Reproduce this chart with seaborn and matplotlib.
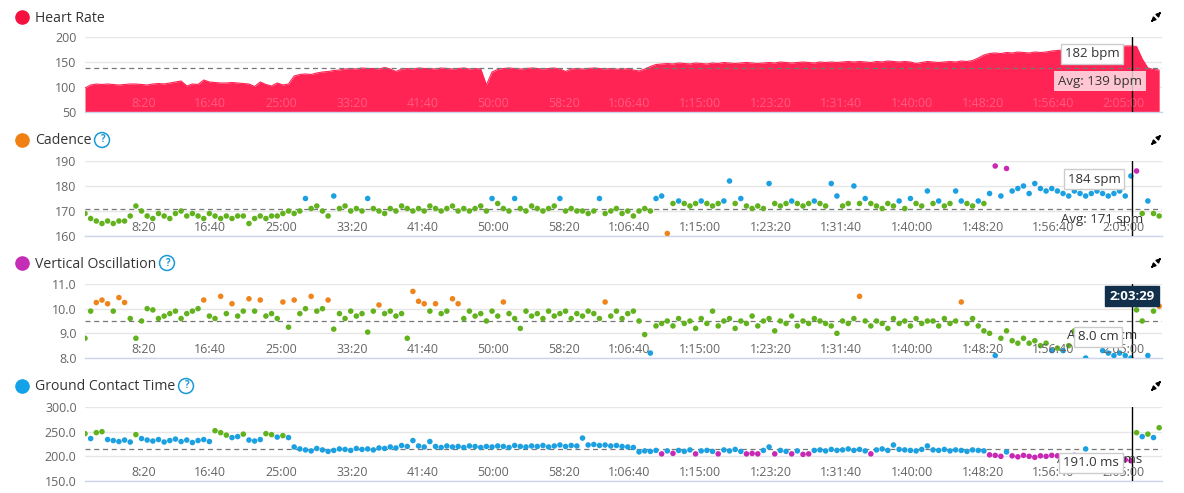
import numpy as np
import pandas as pd
import matplotlib
matplotlib.use('Agg')
import matplotlib.pyplot as plt
from matplotlib.lines import Line2D
from matplotlib.patches import FancyArrowPatch
from matplotlib.transforms import blended_transform_factory
import seaborn as sns

# one sample every 40 s
sample_step = 40

heart_rate = [
    98, 104, 106, 105, 106, 105, 104, 105, 106, 106,
    105, 104, 106, 107, 106, 108, 110, 112, 102, 106,
    105, 114, 110, 109, 108, 108, 109, 108, 107, 106,
    101, 110, 105, 102, 108, 104, 106, 122, 125, 126,
    125, 128, 130, 131, 133, 134, 136, 137, 136, 138,
    137, 137, 136, 139, 136, 131, 136, 137, 136, 138,
    137, 137, 136, 138, 137, 136, 137, 138, 136, 137,
    136, 104, 130, 135, 137, 138, 137, 136, 137, 138,
    137, 136, 137, 138, 136, 131, 136, 137, 136, 137,
    138, 137, 136, 137, 136, 135, 137, 134, 132, 136,
    141, 145, 146, 147, 146, 148, 147, 146, 148, 147,
    146, 148, 147, 149, 148, 147, 148, 149, 148, 147,
    148, 149, 148, 150, 149, 148, 149, 150, 149, 148,
    150, 149, 150, 149, 150, 151, 150, 151, 150, 149,
    151, 150, 152, 151, 150, 151, 150, 147, 149, 151,
    150, 149, 150, 151, 150, 152, 151, 153, 158, 164,
    167, 168, 167, 169, 168, 170, 169, 168, 170, 169,
    170, 172, 173, 174, 175, 174, 176, 175, 177, 176,
    178, 179, 180, 181, 182, 182, 181, 156, 138, 135,
    134,
]

cadence = [
    169, 167, 166, 165, 166, 165, 166, 166, 168, 172,
    170, 168, 167, 169, 168, 167, 169, 170, 168, 169,
    168, 167, 169, 168, 167, 168, 167, 168, 168, 165,
    167, 168, 167, 168, 168, 169, 170, 169, 170, 175,
    171, 172, 170, 168, 176, 171, 172, 170, 171, 170,
    175, 171, 170, 169, 171, 170, 172, 171, 170, 171,
    170, 172, 171, 170, 171, 172, 170, 171, 170, 171,
    172, 170, 175, 173, 171, 170, 175, 171, 170, 172,
    171, 170, 171, 172, 175, 170, 171, 170, 170, 169,
    170, 175, 169, 170, 171, 169, 170, 168, 170, 171,
    170, 175, 176, 161, 173, 174, 173, 172, 173, 174,
    173, 172, 173, 174, 182, 173, 175, 172, 171, 172,
    171, 181, 173, 172, 173, 174, 173, 172, 173, 174,
    173, 172, 181, 176, 172, 173, 180, 173, 175, 173,
    172, 171, 173, 172, 174, 171, 175, 173, 172, 178,
    173, 174, 172, 173, 178, 174, 173, 172, 174, 173,
    177, 188, 176, 187, 178, 179, 180, 177, 181, 179,
    178, 179, 178, 177, 176, 178, 177, 176, 177, 178,
    177, 176, 177, 178, 176, 184, 186, 169, 174, 169,
    168,
]

vertical_oscillation = [
    8.8, 9.9, 10.25, 10.35, 10.2, 9.9, 10.45, 10.25, 9.6, 8.8,
    9.5, 10.0, 9.95, 9.6, 9.7, 9.8, 9.9, 9.6, 9.8, 9.9,
    10.0, 10.35, 9.7, 9.6, 10.5, 9.8, 10.2, 9.7, 9.9, 10.4,
    9.9, 10.35, 9.7, 9.8, 9.6, 10.27, 9.25, 10.35, 9.8, 10.0,
    10.5, 9.9, 10.0, 10.35, 9.17, 9.8, 9.6, 9.9, 9.7, 9.8,
    9.05, 9.9, 10.15, 9.8, 9.9, 9.7, 9.8, 8.8, 10.7, 10.3,
    10.2, 9.9, 10.2, 9.8, 9.9, 10.4, 10.2, 9.6, 9.9, 9.7,
    9.8, 9.5, 9.9, 9.7, 10.27, 9.8, 9.6, 9.2, 9.9, 9.7,
    9.8, 9.6, 9.9, 9.7, 9.8, 9.9, 9.6, 9.8, 9.7, 9.9,
    9.8, 9.6, 10.27, 9.7, 9.9, 9.6, 9.8, 9.9, 9.5, 8.95,
    8.2, 9.3, 9.4, 9.5, 9.3, 9.6, 9.4, 9.5, 9.2, 9.6,
    9.4, 9.9, 9.3, 9.5, 9.6, 9.2, 9.5, 9.4, 9.7, 9.3,
    9.5, 9.6, 9.1, 9.5, 9.4, 9.7, 9.3, 9.5, 9.4, 9.6,
    9.5, 9.4, 9.3, 9.0, 9.5, 9.4, 9.6, 10.5, 9.5, 9.3,
    9.5, 9.4, 9.2, 9.6, 9.4, 9.5, 9.3, 9.6, 9.4, 9.5,
    9.5, 9.3, 9.6, 9.4, 9.5, 10.27, 9.4, 9.6, 9.3, 9.1,
    9.0, 8.1, 8.8, 9.1, 8.7, 8.6, 8.8, 8.6, 8.7, 8.5,
    8.6, 8.3, 8.4, 8.3, 8.5, 9.1, 8.9, 8.0, 8.6, 8.7,
    8.3, 8.2, 8.1, 8.2, 8.1, 8.0, 9.95, 9.5, 8.1, 9.9,
    10.1,
]

ground_contact = [
    246, 236, 248, 250, 234, 232, 230, 233, 229, 244,
    236, 233, 231, 234, 229, 232, 235, 230, 233, 228,
    232, 234, 230, 252, 248, 243, 238, 240, 245, 233,
    231, 234, 246, 244, 239, 242, 238, 219, 215, 213,
    211, 216, 213, 210, 212, 215, 214, 212, 216, 214,
    215, 213, 217, 216, 219, 217, 222, 220, 232, 221,
    219, 230, 220, 218, 221, 219, 220, 218, 221, 220,
    218, 220, 219, 221, 220, 218, 222, 220, 219, 221,
    220, 222, 219, 221, 223, 220, 222, 221, 237, 223,
    224, 222, 223, 221, 222, 220, 219, 218, 209, 211,
    210, 212, 205, 211, 206, 212, 210, 213, 205, 211,
    212, 210, 205, 213, 211, 214, 210, 205, 206, 205,
    212, 219, 205, 212, 210, 205, 211, 204, 205, 212,
    213, 211, 214, 212, 213, 215, 212, 214, 211, 205,
    213, 215, 212, 223, 214, 213, 212, 211, 214, 221,
    213, 212, 214, 211, 213, 212, 210, 213, 212, 211,
    203, 202, 200, 209, 201, 199, 202, 200, 198, 201,
    200, 202, 201, 199, 200, 202, 201, 215, 199, 200,
    198, 197, 196, 195, 193, 191, 248, 240, 245, 238,
    258,
]

avg_hr = 139
avg_cadence = 171
avg_vo = 9.5
avg_gct = 215.0
cursor_s = 7409  # 2:03:29
x_end = 7620

tick_seconds = [500, 1000, 1500, 2000, 2500, 3000, 3500, 4000,
                4500, 5000, 5500, 6000, 6500, 7000, 7500]
tick_labels = ['8:20', '16:40', '25:00', '33:20', '41:40', '50:00', '58:20',
               '1:06:40', '1:15:00', '1:23:20', '1:31:40', '1:40:00',
               '1:48:20', '1:56:40', '2:05:00']

zone_colors = {'red': '#e8263c', 'orange': '#f0841c', 'green': '#62b21e',
               'blue': '#1ba0e1', 'purple': '#c828b4'}
hr_color = '#ff2454'

sns.set_theme(style='white')
plt.rcParams['font.family'] = ['Open Sans', 'DejaVu Sans']

W, H = 1184, 493
fig = plt.figure(figsize=(W / 100, H / 100), dpi=100)


def fx(x):
    return x / W


def fy(y):
    return 1 - y / H


def make_axes(top_px, bottom_px):
    ax = fig.add_axes([fx(85), fy(bottom_px), fx(1162) - fx(85),
                       fy(top_px) - fy(bottom_px)])
    for side in ['top', 'left', 'right']:
        ax.spines[side].set_visible(False)
    ax.spines['bottom'].set_color('#ccd6eb')
    ax.spines['bottom'].set_linewidth(1)
    ax.yaxis.grid(True, color='#e6e6e6', lw=1)
    ax.set_axisbelow(True)
    ax.set_xlim(0, x_end)
    ax.set_xticks([])
    ax.tick_params(axis='y', length=0, pad=6, labelsize=9, labelcolor='#666666')
    return ax


def time_labels(ax, color, alpha=1.0):
    trans = blended_transform_factory(ax.transData, ax.transAxes)
    for t, lab in zip(tick_seconds, tick_labels):
        ax.text(t, 0.115, lab, transform=trans, ha='right', va='center',
                fontsize=9, color=color, alpha=alpha, zorder=5)


def zone_scatter(ax, values, bins, labels):
    df = pd.DataFrame({'t': np.arange(len(values)) * sample_step, 'v': values})
    df['zone'] = pd.cut(df['v'], bins, right=False, labels=labels).astype(str)
    sns.scatterplot(data=df, x='t', y='v', hue='zone', palette=zone_colors,
                    s=16, linewidth=0, legend=False, ax=ax, zorder=3)
    ax.set_xlabel('')
    ax.set_ylabel('')


def expand_icon(y_px):
    # the diagonal expand sign has no glyph in the installed fonts
    for (x0, y0), (x1, y1) in [((1158, 15), (1163, 10)), ((1154, 19), (1149, 24))]:
        fig.add_artist(FancyArrowPatch((fx(x0), fy(y_px - 17 + y0)),
                                       (fx(x1), fy(y_px - 17 + y1)),
                                       transform=fig.transFigure,
                                       arrowstyle='-|>', mutation_scale=6,
                                       lw=1.2, color='black'))


def title(y_px, text, color, help_x=None):
    fig.add_artist(Line2D([fx(22)], [fy(y_px)], marker='o', markersize=9.5,
                          color=color, transform=fig.transFigure))
    fig.text(fx(35), fy(y_px + 1), text, fontsize=10.1, color='#333333',
             va='center', ha='left')
    if help_x is not None:
        fig.text(fx(help_x), fy(y_px), '?', fontsize=7, color='#1a9ad6',
                 fontweight='bold', ha='center', va='center',
                 bbox=dict(boxstyle='circle,pad=0.2', fc='white',
                           ec='#1a9ad6', lw=1.1))
    expand_icon(y_px)


def tip(x_px, y_px, text, fc='white', ec='#cccccc', color='#333333',
        alpha=1.0, weight='normal', box=True):
    kw = {}
    if box:
        kw['bbox'] = dict(boxstyle='square,pad=0.3', fc=fc, ec=ec, lw=1,
                          alpha=alpha)
    fig.text(fx(x_px), fy(y_px), text, fontsize=9.5, color=color,
             fontweight=weight, ha='center', va='center', **kw)


# Heart rate
ax1 = make_axes(37, 112)
hr_t = np.arange(len(heart_rate)) * sample_step
ax1.fill_between(hr_t, 50, heart_rate, color=hr_color, lw=0, zorder=2)
sns.lineplot(x=hr_t, y=heart_rate, color=hr_color, lw=0.8, ax=ax1, zorder=2)
ax1.set_ylim(50, 200)
ax1.set_yticks([50, 100, 150, 200])
ax1.set_yticklabels(['50', '100', '150', '200'])
ax1.axhline(avg_hr, color='#777777', lw=0.9, ls=(0, (4, 3)), zorder=3)
ax1.axvline(cursor_s, color='black', lw=1, zorder=4)
time_labels(ax1, '#ffffff', alpha=0.25)
title(17, 'Heart Rate', '#f5123f')
tip(1092, 54, '182 bpm')
tip(1100, 81, 'Avg: 139 bpm', fc='white', ec='none', alpha=0.75)

# Cadence
ax2 = make_axes(161, 236)
zone_scatter(ax2, cadence, [-np.inf, 153, 164, 174, 185, np.inf],
             ['red', 'orange', 'green', 'blue', 'purple'])
ax2.set_ylim(160, 190)
ax2.set_yticks([160, 170, 180, 190])
ax2.set_yticklabels(['160', '170', '180', '190'])
ax2.axhline(avg_cadence, color='#777777', lw=0.9, ls=(0, (4, 3)), zorder=2)
ax2.axvline(cursor_s, color='black', lw=1, zorder=4)
time_labels(ax2, '#666666')
title(140, 'Cadence', '#f08012', help_x=102)
tip(1094, 179, '184 spm')
tip(1102, 220, 'Avg: 171 spm', box=False)

# Vertical oscillation
ax3 = make_axes(284, 358)
zone_scatter(ax3, vertical_oscillation, [-np.inf, 6.8, 8.4, 10.05, 11.85, np.inf],
             ['purple', 'blue', 'green', 'orange', 'red'])
ax3.set_ylim(8, 11)
ax3.set_yticks([8, 9, 10, 11])
ax3.set_yticklabels(['8.0', '9.0', '10.0', '11.0'])
ax3.axhline(avg_vo, color='#777777', lw=0.9, ls=(0, (4, 3)), zorder=2)
ax3.axvline(cursor_s, color='black', lw=1, zorder=4)
time_labels(ax3, '#666666')
title(263, 'Vertical Oscillation', '#c42db5', help_x=167)
tip(1102, 335, 'Avg: 9.5 cm', box=False)
tip(1098, 337, '8.0 cm')
tip(1132, 296, '2:03:29', fc='#12304b', ec='#12304b', color='white', weight='bold')

# Ground contact time
ax4 = make_axes(407, 481)
zone_scatter(ax4, ground_contact, [-np.inf, 208, 241, 259, 278, np.inf],
             ['purple', 'blue', 'green', 'orange', 'red'])
ax4.set_ylim(150, 300)
ax4.set_yticks([150, 200, 250, 300])
ax4.set_yticklabels(['150.0', '200.0', '250.0', '300.0'])
ax4.axhline(avg_gct, color='#777777', lw=0.9, ls=(0, (4, 3)), zorder=2)
ax4.axvline(cursor_s, color='black', lw=1, zorder=4)
time_labels(ax4, '#666666')
title(386, 'Ground Contact Time', '#13a2e8', help_x=186)
tip(1100, 460, 'Avg: 215.0 ms', box=False)
tip(1091, 463, '191.0 ms')

fig.savefig('out.png', dpi=100)
